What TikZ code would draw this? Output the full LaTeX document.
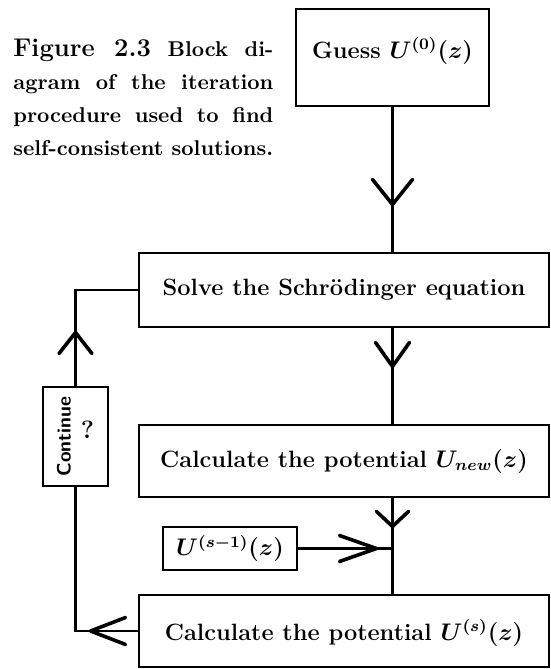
\documentclass[tikz,border=0pt]{standalone}
\usepackage{graphicx}
\usetikzlibrary{arrows.meta,decorations.markings}
\newcommand\bxfont{\fontsize{11.8}{14}\selectfont\bfseries\boldmath}
\tikzset{
  box/.style={draw, line width=1.25pt, inner sep=0pt, font=\bxfont},
  conn/.style={line width=1.25pt},
  va/.style args={#1/#2/#3}{postaction={decorate},
    decoration={markings, mark=at position #1 with {\arrow{Straight Barb[length=#2,width=#3,line width=1.8pt,round]}}}}
}
\begin{document}
\begin{tikzpicture}[x=0.5pt,y=-0.5pt]
\useasboundingbox (0,0) rectangle (551,669);
% caption
\node[anchor=base west, inner sep=0pt] (cap) at (13,56) {\parbox[t]{130pt}{\fontsize{10.7}{16.5}\selectfont\bfseries
  {\fontsize{12.8}{16.5}\selectfont Figure 2.3} Block di-\linebreak
  agram of the iteration\linebreak
  procedure used to find\linebreak
  self-consistent solutions.}};
% boxes
\node[box, minimum width=96.5pt, minimum height=48.5pt, text height=10pt, text depth=9pt] (guess) at (392.5,57.5) {Guess $U^{(0)}(z)$};
\node[box, minimum width=205pt, minimum height=37pt] (solve) at (344,290) {Solve the Schr\"odinger equation};
\node[box, minimum width=205pt, minimum height=36pt] (calc1) at (344,461) {Calculate the potential $U_{new}(z)$\hspace{7.5pt}};
\node[box, minimum width=67pt, minimum height=21.5pt] (prev) at (230,548.5) {$U^{(s-1)}(z)$};
\node[box, minimum width=205pt, minimum height=36pt, text height=12.5pt, text depth=3pt] (calc2) at (344,631) {Calculate the potential $U^{(s)}(z)$\hspace{4pt}};
\node[box, minimum width=32.5pt, minimum height=49.5pt, font=\fontsize{9.7}{11}\selectfont\sffamily\bfseries] (cont) at (75.5,436.5) {\rotatebox{90}{Continue}\hspace{5pt}\raisebox{19pt}{\fontsize{12.5}{13}\selectfont\rmfamily\bfseries ?}};
% connectors
\coordinate (sp) at (392.5,0);
\draw[conn, va=49.5pt/12.5pt/20pt] (guess.south) -- (guess.south |- solve.north);
\draw[conn, va=20pt/12pt/17pt] (solve.south -| sp) -- (calc1.north -| sp);
\draw[conn, va=15pt/7.5pt/16pt] (calc1.south -| sp) -- (calc2.north -| sp);
\draw[conn, va=40pt/18.5pt/13pt] (prev.east) -- (prev.east -| sp);
\draw[conn, va=24.5pt/17.5pt/13.5pt] (calc2.west) -| (cont.south);
\draw[conn, va=27.5pt/10.5pt/16.5pt] (cont.north) |- (solve.west);
\end{tikzpicture}
\end{document}
